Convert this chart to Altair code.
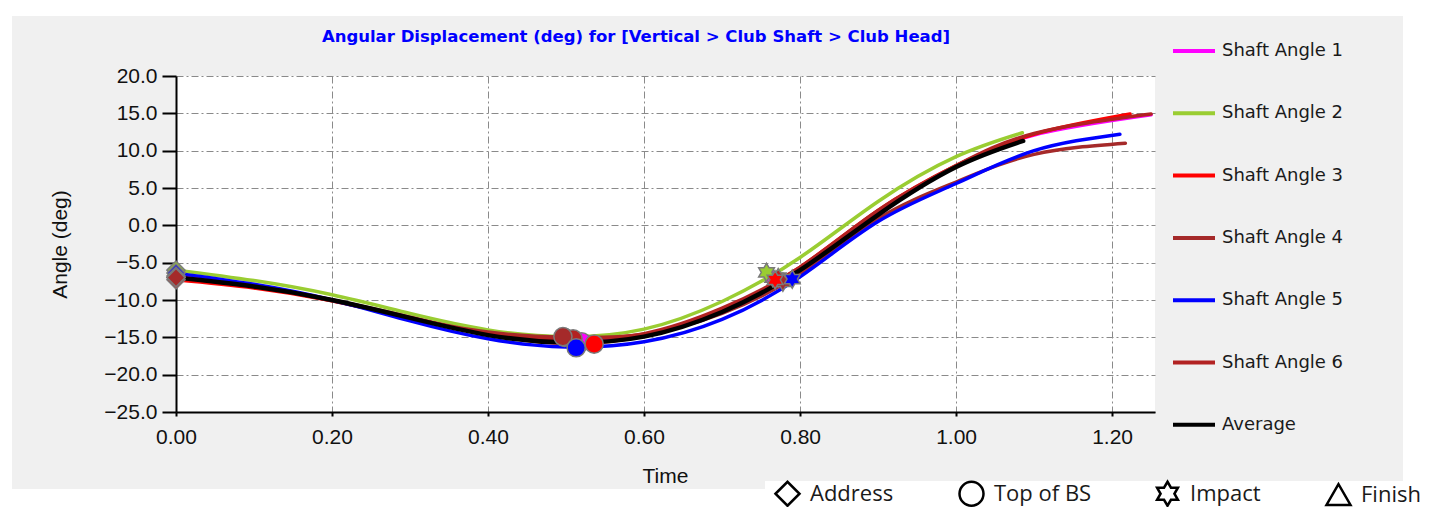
import altair as alt
import pandas as pd

# ---------------- data ----------------
series_names = ["Shaft Angle 1", "Shaft Angle 2", "Shaft Angle 3", "Shaft Angle 4",
                "Shaft Angle 5", "Shaft Angle 6", "Average"]
series_colors = ["#FF00FF", "#9ACD32", "#FF0000", "#A52A2A", "#0000FF", "#B22222", "#000000"]

t_s1 = [0.0, 0.1, 0.2, 0.3, 0.4, 0.5, 0.6, 0.7, 0.8, 0.9, 1.0, 1.1, 1.25]
v_s1 = [-6.8, -8.1, -10.0, -12.4, -14.6, -15.5, -14.7, -11.4, -5.8, 1.8, 7.9, 12.1, 14.8]

t_s2 = [0.0, 0.1, 0.2, 0.3, 0.4, 0.5, 0.6, 0.7, 0.8, 0.9, 1.0, 1.085]
v_s2 = [-6.0, -7.4, -9.3, -11.8, -14.0, -14.9, -13.9, -10.2, -4.3, 3.2, 9.2, 12.4]

t_s3 = [0.0, 0.1, 0.2, 0.3, 0.4, 0.5, 0.6, 0.7, 0.8, 0.9, 1.0, 1.1, 1.223]
v_s3 = [-7.3, -8.4, -10.1, -12.4, -14.6, -15.8, -14.8, -11.3, -5.6, 2.0, 8.0, 12.2, 14.9]

t_s4 = [0.0, 0.1, 0.2, 0.3, 0.4, 0.5, 0.6, 0.7, 0.8, 0.9, 1.0, 1.1, 1.217]
v_s4 = [-7.0, -8.2, -10.1, -12.4, -14.3, -15.0, -14.6, -11.8, -6.5, 0.9, 5.8, 9.5, 11.0]

t_s5 = [0.0, 0.1, 0.2, 0.3, 0.4, 0.5, 0.6, 0.7, 0.8, 0.9, 1.0, 1.1, 1.21]
v_s5 = [-6.4, -7.9, -10.0, -12.8, -15.2, -16.3, -15.6, -12.6, -6.9, 0.5, 5.6, 10.0, 12.2]

t_s6 = [0.0, 0.1, 0.2, 0.3, 0.4, 0.5, 0.6, 0.7, 0.8, 0.9, 1.0, 1.1, 1.25]
v_s6 = [-7.0, -8.2, -10.0, -12.3, -14.5, -15.2, -14.5, -11.1, -5.6, 2.0, 8.0, 12.3, 14.9]

t_avg = [0.0, 0.1, 0.2, 0.3, 0.4, 0.5, 0.6, 0.7, 0.8, 0.9, 1.0, 1.086]
v_avg = [-7.0, -8.2, -10.0, -12.4, -14.7, -15.7, -14.9, -11.6, -6.0, 1.4, 7.8, 11.3]

# swing events (markers)
event_names = ["Address", "Top of BS", "Impact", "Finish"]
ev_event = ["Address"] * 6 + ["Top of BS"] * 6 + ["Impact"] * 6
ev_series = ["Shaft Angle 2", "Shaft Angle 5", "Shaft Angle 1", "Shaft Angle 3", "Shaft Angle 6", "Shaft Angle 4",
             "Shaft Angle 1", "Shaft Angle 2", "Shaft Angle 6", "Shaft Angle 4", "Shaft Angle 5", "Shaft Angle 3",
             "Shaft Angle 1", "Shaft Angle 6", "Shaft Angle 2", "Shaft Angle 4", "Shaft Angle 3", "Shaft Angle 5"]
ev_t = [0.0, 0.0, 0.0, 0.0, 0.0, 0.0,
        0.52, 0.498, 0.509, 0.496, 0.513, 0.536,
        0.765, 0.772, 0.757, 0.778, 0.768, 0.79]
ev_v = [-6.0, -6.4, -6.8, -7.3, -7.0, -7.0,
        -15.6, -15.0, -15.2, -14.9, -16.4, -15.9,
        -7.0, -7.0, -6.3, -7.6, -7.3, -7.2]

x_ticks = [0.0, 0.2, 0.4, 0.6, 0.8, 1.0, 1.2]
y_ticks = [-25, -20, -15, -10, -5, 0, 5, 10, 15, 20]

chart_title = "Angular Displacement (deg) for [Vertical > Club Shaft > Club Head]"

# ---------------- tables ----------------
shaft_t = [t_s1, t_s2, t_s3, t_s4, t_s5, t_s6]
shaft_v = [v_s1, v_s2, v_s3, v_s4, v_s5, v_s6]
rows = []
for name, ts, vs in zip(series_names[:6], shaft_t, shaft_v):
    for t, v in zip(ts, vs):
        rows.append({"series": name, "t": t, "v": v})
shafts = pd.DataFrame(rows)
avg = pd.DataFrame({"series": "Average", "t": t_avg, "v": v_avg})
events = pd.DataFrame({"event": ev_event, "series": ev_series, "t": ev_t, "v": ev_v})
events["edge"] = "#7a7a7a"
events["idx"] = range(len(events))

hexagram = ("M0,-1L0.289,-0.5L0.866,-0.5L0.577,0L0.866,0.5L0.289,0.5L0,1"
            "L-0.289,0.5L-0.866,0.5L-0.577,0L-0.866,-0.5L-0.289,-0.5Z")

W, H = 979, 336

x_scale = alt.Scale(domain=[0, 1.255], nice=False, zero=False)
y_scale = alt.Scale(domain=[-25, 20], nice=False, zero=False)
color_scale = alt.Scale(domain=series_names, range=series_colors)

x_axis = alt.Axis(values=x_ticks, format=".2f", title="Time", titleX=489, titleY=64,
                  titleBaseline="middle", titleAlign="center", tickSize=4, labelPadding=10,
                  labelFlush=False, labelOverlap=False)
y_axis = alt.Axis(values=y_ticks, format=".1f", title="Angle (deg)", titleX=-116, titleY=168,
                  titleAngle=270, titleAlign="center", titleBaseline="middle",
                  tickSize=14, labelPadding=5, labelFlush=False, labelOverlap=False)

color_legend = alt.Legend(title=None, orient="none", legendX=995, legendY=-48,
                          symbolType="stroke", symbolSize=1764, symbolStrokeWidth=4,
                          labelFont="DejaVu Sans", labelFontSize=18, labelColor="#1a1a1a",
                          labelOffset=5, rowPadding=30.3, padding=0, labelLimit=400)

shape_legend = alt.Legend(title=None, orient="none", direction="horizontal",
                          legendX=598, legendY=404, symbolSize=576, symbolStrokeWidth=2.5,
                          symbolFillColor="white", symbolStrokeColor="black",
                          labelFont="Open Sans", labelFontSize=22, labelColor="#1a1a1a",
                          labelOffset=9, columnPadding=60, padding=0, labelLimit=400)

dummy = pd.DataFrame({"k": [0]})


def panel_rect(x1, x2, y1, y2):
    return alt.Chart(dummy).mark_rect(color="white").encode(
        x=alt.value(x1), x2=alt.value(x2), y=alt.value(y1), y2=alt.value(y2))


strips = [
    panel_rect(-168, 1257, -68, -60),   # top white margin
    panel_rect(-168, -164, -68, 431),   # left white margin
    panel_rect(1227, 1257, -68, 431),   # right white margin
    panel_rect(-168, 1257, 413, 431),   # bottom white margin
    panel_rect(589, 1257, 405, 431),    # box behind event legend
]

title_text = alt.Chart(dummy).mark_text(
    font="DejaVu Sans", fontSize=16.5, fontWeight="bold", color="#0000FF",
    align="center", baseline="middle",
).encode(x=alt.value(460), y=alt.value(-39), text=alt.value(chart_title))

lines = alt.Chart(shafts).mark_line(interpolate="natural", strokeWidth=3.5, strokeCap="round").encode(
    x=alt.X("t:Q", scale=x_scale, axis=x_axis),
    y=alt.Y("v:Q", scale=y_scale, axis=y_axis),
    color=alt.Color("series:N", scale=color_scale, legend=color_legend),
)

avg_line = alt.Chart(avg).mark_line(interpolate="natural", strokeWidth=4.5, strokeCap="round").encode(
    x=alt.X("t:Q", scale=x_scale, axis=x_axis),
    y=alt.Y("v:Q", scale=y_scale, axis=y_axis),
    color=alt.Color("series:N", scale=color_scale, legend=color_legend),
)

points = alt.Chart(events).mark_point(filled=True, size=330, opacity=1, strokeWidth=1.5).encode(
    x=alt.X("t:Q", scale=x_scale, axis=x_axis),
    y=alt.Y("v:Q", scale=y_scale, axis=y_axis),
    color=alt.Color("series:N", scale=color_scale, legend=None),
    shape=alt.Shape("event:N", scale=alt.Scale(domain=event_names,
                                               range=["diamond", "circle", hexagram, "triangle-up"]),
                    legend=shape_legend),
    stroke=alt.Stroke("edge:N", scale=None),
    order=alt.Order("idx:Q"),
)

chart = alt.layer(*strips, title_text, lines, avg_line, points).properties(
    width=W, height=H,
    autosize=alt.AutoSizeParams(type="none"),
    padding={"left": 168, "top": 68, "right": 278, "bottom": 95},
).configure(
    background="#F0F0F0"
).configure_view(
    fill="white", stroke=None
).configure_axis(
    labelFont="Liberation Sans", labelFontSize=21, labelColor="#111111",
    titleFont="Liberation Sans", titleFontSize=21, titleColor="#111111", titleFontWeight="normal",
    domainColor="#000000", domainWidth=2, tickColor="#000000", tickWidth=2,
    grid=True, gridColor="#8a8a8a", gridWidth=1, gridDash=[7, 3, 2, 3],
)

chart.save("out.html", embed_options={"renderer": "svg", "actions": False})
